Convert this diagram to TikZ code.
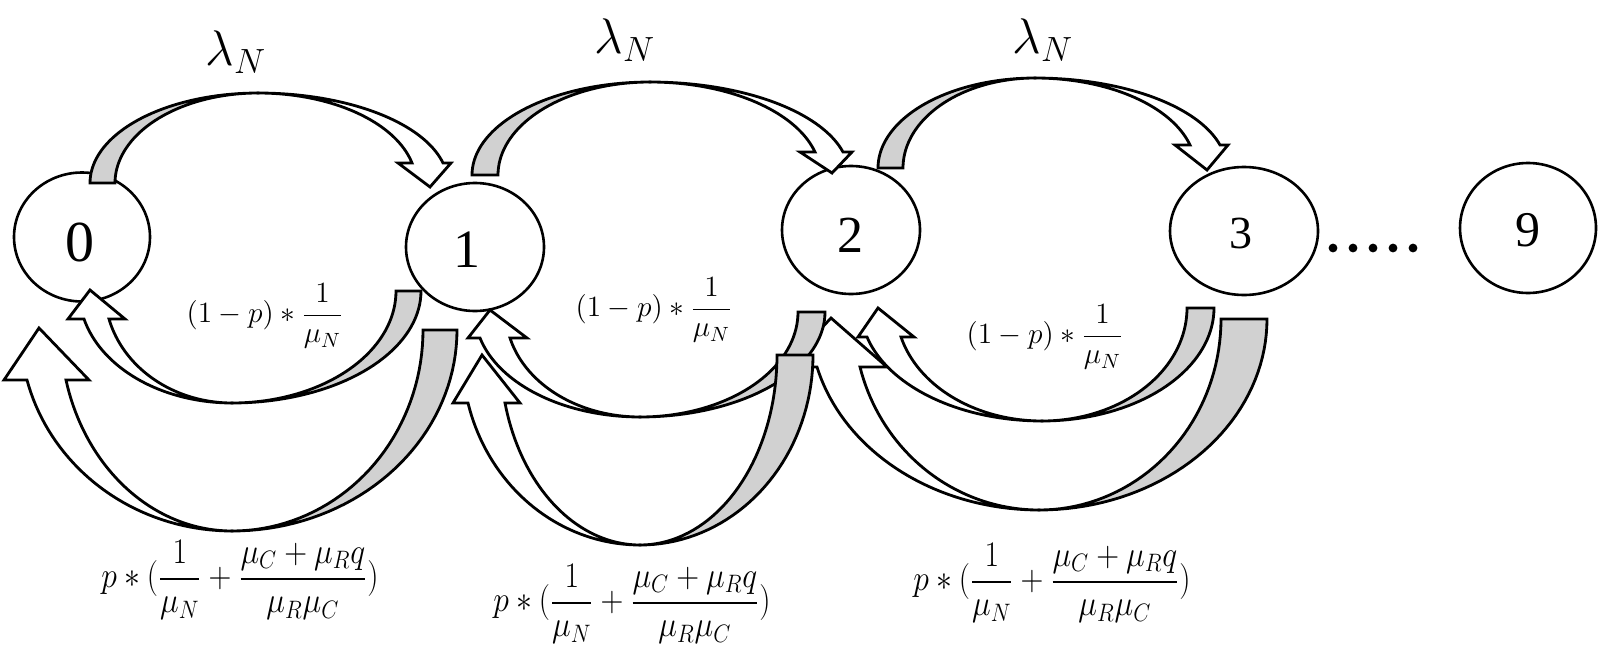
\RequirePackage{fix-cm}
\documentclass[tikz,border=0pt]{standalone}
\usepackage[no-math]{fontspec}
\usepackage{amsmath}
\newfontfamily\digitfont{Liberation Serif}
\usetikzlibrary{shapes.geometric}
\definecolor{lobegray}{gray}{0.82}

\pgfkeys{/ba/.is family}
\pgfkeys{/ba,
  xp/.store in=\bXp, yp/.store in=\bYp, yb/.store in=\bYb,
  to/.store in=\bTo, ti/.store in=\bTi,
  yh/.store in=\bYh, ho/.store in=\bHo, hi/.store in=\bHi,
  wo/.store in=\bWo, wi/.store in=\bWi, tx/.store in=\bTx, ty/.store in=\bTy}

\newcommand\blockarrow[1]{%
  \pgfkeys{/ba,#1}%
  \pgfmathsetmacro\bRy{abs(\bYp-\bYb)}%
  \pgfmathsetmacro\bV{(\bYp>\bYb)?1:-1}%
  \pgfmathsetmacro\bRTo{abs(\bTo-\bXp)}%
  \pgfmathsetmacro\bRTi{abs(\bTi-\bXp)}%
  \pgfmathsetmacro\bTh{asin(abs(\bYh-\bYb)/\bRy)}%
  \pgfmathsetmacro\bRHo{abs(\bHo-\bXp)/cos(\bTh)}%
  \pgfmathsetmacro\bRHi{abs(\bHi-\bXp)/cos(\bTh)}%
  \filldraw[lobe] plot[domain=0:90,samples=40] ({\bXp+(\bV)*\bRTo*cos(\x)},{\bYb+(\bV)*\bRy*sin(\x)})
     -- plot[domain=90:0,samples=40] ({\bXp+(\bV)*\bRTi*cos(\x)},{\bYb+(\bV)*\bRy*sin(\x)}) -- cycle;
  \filldraw[face] plot[domain=90:\bTh,samples=40] ({\bXp-(\bV)*\bRHo*cos(\x)},{\bYb+(\bV)*\bRy*sin(\x)})
     -- (\bWo,\bYh) -- (\bTx,\bTy) -- (\bWi,\bYh)
     -- plot[domain=\bTh:90,samples=40] ({\bXp-(\bV)*\bRHi*cos(\x)},{\bYb+(\bV)*\bRy*sin(\x)}) -- cycle;
}

\begin{document}
\begin{tikzpicture}[x=0.5pt,y=-0.5pt,
  state/.style={draw, ellipse, line width=1.3pt, inner sep=0pt},
  digit/.style={inner sep=0pt, font=\digitfont\fontsize{#1}{#1}\selectfont},
  lobe/.style={fill=lobegray, draw=black, line width=1.4pt},
  face/.style={fill=white, draw=black, line width=1.4pt},
  rate/.style={inner sep=0pt, font=\fontsize{14.7}{18}\selectfont},
  rateb/.style={inner sep=0pt, font=\fontsize{18}{21}\selectfont},
  lam/.style={inner sep=0pt, font=\fontsize{25}{30}\selectfont}]

\useasboundingbox (0,0) rectangle (1600,653);

% states
\node[state, minimum width=68pt, minimum height=64.5pt] (s0) at (82,237) {};
\node[state, minimum width=69pt, minimum height=64pt] (s1) at (475,247) {};
\node[state, minimum width=69pt, minimum height=64pt] (s2) at (851,230) {};
\node[state, minimum width=74pt, minimum height=64pt] (s3) at (1244,231) {};
\node[state, minimum width=68pt, minimum height=65pt] (s9) at (1528,228) {};
\node[digit=29] (d0) at (80,242) {0};
\node[digit=27] (d1) at (467,250) {1};
\node[digit=26] (d2) at (850,235) {2};
\node[digit=23] (d3) at (1241,233) {3};
\node[digit=25] (d9) at (1528,230) {9};

% dots
\foreach \k in {0,...,4} \fill (1333+20*\k,248) circle (2.2pt);

% top arrows (arrivals)
\blockarrow{xp=258, yp=93, yb=183, to=90, ti=115, yh=163, ho=443, hi=412, wo=451, wi=398, tx=430, ty=187}
\blockarrow{xp=650, yp=82, yb=175, to=472, ti=498, yh=152, ho=843, hi=815, wo=852, wi=800, tx=832, ty=173}
\blockarrow{xp=1035, yp=78, yb=168, to=878, ti=903, yh=145, ho=1220, hi=1190, wo=1228, wi=1175, tx=1207, ty=170}

% bottom arrows (departures)
\blockarrow{xp=1042, yp=421, yb=308, to=1214, ti=1187, yh=337, ho=867, hi=901, wo=858, wi=914, tx=878, ty=308}
\blockarrow{xp=1039, yp=510, yb=319, to=1267, ti=1221, yh=367, ho=817, hi=860, wo=785, wi=887, tx=831, ty=318}
\blockarrow{xp=640, yp=417, yb=312, to=825, ti=798, yh=338, ho=480, hi=510, wo=468, wi=527, tx=490, ty=310}
\blockarrow{xp=640, yp=545, yb=355, to=813, ti=777, yh=403, ho=468, hi=505, wo=453, wi=520, tx=482, ty=355}
\blockarrow{xp=232, yp=403, yb=291, to=421, ti=396, yh=319, ho=84, hi=109, wo=68, wi=125, tx=90, ty=290}
\blockarrow{xp=232, yp=531, yb=330, to=457, ti=423, yh=380, ho=27, hi=66, wo=4, wi=89, tx=39, ty=328}

% labels
\node[lam] (l1) at (236,52) {$\lambda_N$};
\node[lam] (l2) at (625,40) {$\lambda_N$};
\node[lam] (l3) at (1043,40) {$\lambda_N$};

\node[rate] (r1) at (265,316) {$(1-p)\ast\dfrac{1}{\mu_N}$};
\node[rate] (r2) at (654,310) {$(1-p)\ast\dfrac{1}{\mu_N}$};
\node[rate] (r3) at (1045,337) {$(1-p)\ast\dfrac{1}{\mu_N}$};

\node[rateb] (q1) at (240,580) {\scalebox{0.88}[1]{$p\ast(\dfrac{1}{\mu_N}+\dfrac{\mu_C+\mu_R q}{\mu_R\mu_C})$}};
\node[rateb] (q2) at (632,604) {\scalebox{0.88}[1]{$p\ast(\dfrac{1}{\mu_N}+\dfrac{\mu_C+\mu_R q}{\mu_R\mu_C})$}};
\node[rateb] (q3) at (1052,583) {\scalebox{0.88}[1]{$p\ast(\dfrac{1}{\mu_N}+\dfrac{\mu_C+\mu_R q}{\mu_R\mu_C})$}};
\end{tikzpicture}
\end{document}
